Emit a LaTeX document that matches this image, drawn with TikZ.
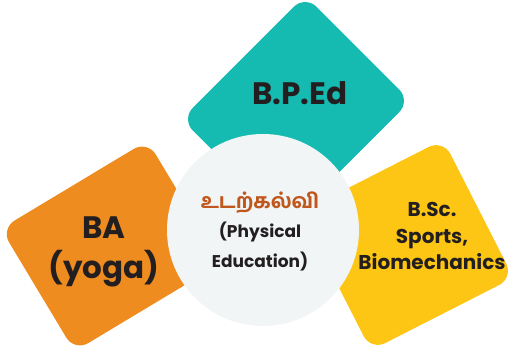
\documentclass[tikz,border=0pt]{standalone}
\usepackage{fontspec}
\setmainfont{Poppins}
\newfontfamily\tamilfont[Script=Tamil, UprightFont={* Bold}, BoldFont={* Bold}]{Hind Madurai}
\usepackage{tikz}
\usetikzlibrary{positioning}
\definecolor{tealbox}{HTML}{15BAB0}
\definecolor{orangebox}{HTML}{EF8C1F}
\definecolor{yellowbox}{HTML}{FEC614}
\definecolor{hubfill}{HTML}{F1F5F6}
\definecolor{ink}{HTML}{231F20}
\definecolor{tamilink}{HTML}{C0581E}

\begin{document}
\begin{tikzpicture}[x=1pt, y=-1pt,
                    tile/.style={rectangle, rounded corners=16pt, inner sep=0pt},
                    hub/.style={circle, fill=hubfill, inner sep=0pt, minimum size=192pt},
                    lbl/.style={align=center, text=ink, font=\bfseries}]
                    \useasboundingbox (0,0) rectangle (509,350);
                    \node [tile, fill=tealbox, minimum width=175pt, minimum height=149pt, rotate=45] (bped) at (296, 110) {};
                    \node [tile, fill=orangebox, minimum width=171pt, minimum height=143pt, rotate=31] (yoga) at (111, 246) {};
                    \node [tile, fill=yellowbox, minimum width=160pt, minimum height=155pt, rotate=27] (bsc) at (407, 245) {};
                    \node [hub] (pe) at (263, 230) {};
                    \node [lbl, font=\bfseries\fontsize{31}{34}\selectfont] (bpedtext) at (300, 93) {B.P.Ed};
                    \node [lbl, font=\bfseries\fontsize{31}{40}\selectfont] (yogatext) at (104, 252) {BA\\(yoga)};
                    \node [lbl, font=\bfseries\fontsize{20}{26.5}\selectfont] (bsctext) at (432, 236) {B.Sc.\\Sports,\\Biomechanics};
                    \node [lbl, font=\bfseries\fontsize{17}{29.5}\selectfont] (petext) at (260, 231) {{\tamilfont\fontsize{20.5}{29.5}\selectfont\color{tamilink}உடற்கல்வி}\\(Physical\\Education)};
                \end{tikzpicture}
\end{document}
